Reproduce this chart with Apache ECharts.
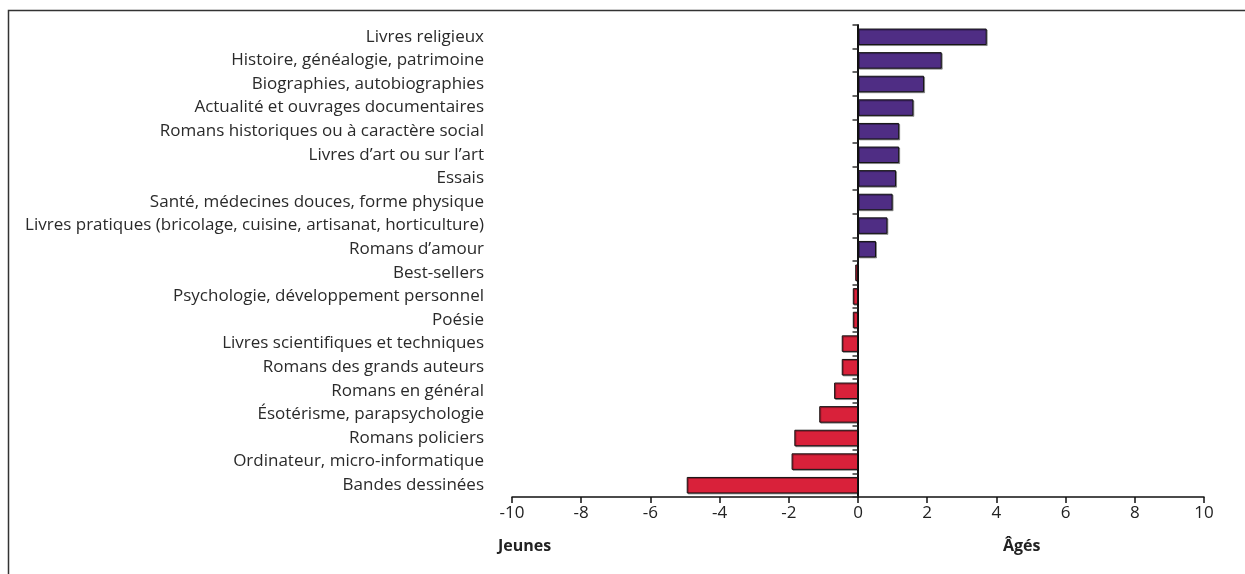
<!DOCTYPE html>
<html><head><meta charset="utf-8">
<script src="https://cdn.jsdelivr.net/npm/echarts@6/dist/echarts.min.js"></script>
<style>html,body{margin:0;padding:0;background:#fff}#c{width:1245px;height:574px}</style>
</head><body><div id="c"></div>
<script>
const categories = [
  "Livres religieux",
  "Histoire, généalogie, patrimoine",
  "Biographies, autobiographies",
  "Actualité et ouvrages documentaires",
  "Romans historiques ou à caractère social",
  "Livres d’art ou sur l’art",
  "Essais",
  "Santé, médecines douces, forme physique",
  "Livres pratiques (bricolage, cuisine, artisanat, horticulture)",
  "Romans d’amour",
  "Best-sellers",
  "Psychologie, développement personnel",
  "Poésie",
  "Livres scientifiques et techniques",
  "Romans des grands auteurs",
  "Romans en général",
  "Ésotérisme, parapsychologie",
  "Romans policiers",
  "Ordinateur, micro-informatique",
  "Bandes dessinées"
];
const values = [3.72, 2.42, 1.91, 1.6, 1.19, 1.19, 1.1, 1.0, 0.85, 0.52,
  -0.08, -0.15, -0.15, -0.47, -0.47, -0.69, -1.12, -1.84, -1.92, -4.95];
const xTicks = [-10, -8, -6, -4, -2, 0, 2, 4, 6, 8, 10];
const axisNames = ["Jeunes", "Âgés"];

const FONT = "'Open Sans', 'DejaVu Sans', sans-serif";
const chart = echarts.init(document.getElementById('c'));
chart.setOption({
  animation: false,
  backgroundColor: '#fff',
  grid: { left: 512, right: 41, top: 25, bottom: 77 },
  xAxis: {
    type: 'value', min: xTicks[0], max: xTicks[xTicks.length - 1], interval: 2,
    splitLine: { show: false },
    axisLine: { show: true, lineStyle: { color: '#111', width: 1.5 } },
    axisTick: { show: true, length: 6, lineStyle: { color: '#111', width: 1.5 } },
    axisLabel: { color: '#222', fontSize: 17, fontFamily: FONT, margin: 8 }
  },
  yAxis: [
    {
      type: 'category', data: categories, inverse: true,
      axisLine: { show: false }, axisTick: { show: false },
      axisLabel: { color: '#2a2a2a', fontSize: 17, fontFamily: FONT, margin: 28 }
    },
    {
      type: 'category', data: categories, inverse: true, position: 'left',
      offset: -345.5,
      axisLine: { show: true, onZero: false, lineStyle: { color: '#111', width: 2 } },
      axisTick: { show: true, length: 5, lineStyle: { color: '#333', width: 1.5 } },
      axisLabel: { show: false }
    }
  ],
  series: [{
    type: 'bar', yAxisIndex: 0, data: values, barWidth: '70%',
    itemStyle: {
      color: p => p.value >= 0 ? '#4f2d84' : '#d9213a',
      borderColor: '#111', borderWidth: 1,
      shadowColor: 'rgba(0,0,0,0.35)', shadowOffsetX: 1, shadowOffsetY: 1, shadowBlur: 0
    }
  }],
  graphic: [
    { type: 'rect', shape: { x: 8.5, y: 10.5, width: 1300, height: 700 },
      style: { fill: 'none', stroke: '#333', lineWidth: 1.5 }, silent: true },
    { type: 'text', left: 498, top: 538,
      style: { text: axisNames[0], font: "bold 16px 'Open Sans', sans-serif", fill: '#222' } },
    { type: 'text', left: 1003, top: 538,
      style: { text: axisNames[1], font: "bold 16px 'Open Sans', sans-serif", fill: '#222' } }
  ]
});
</script></body></html>
